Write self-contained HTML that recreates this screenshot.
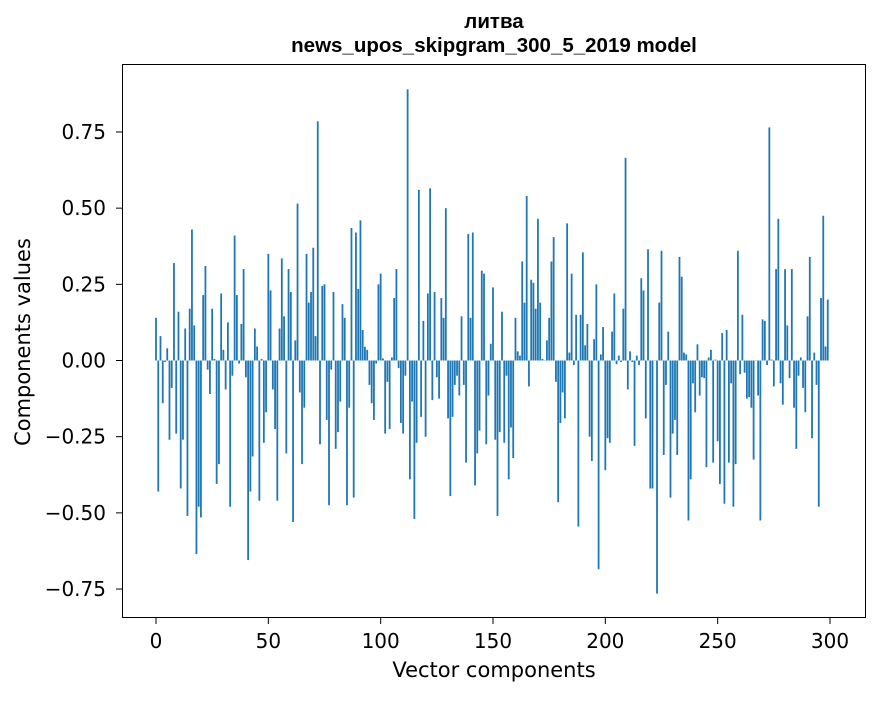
<!DOCTYPE html>
<html><head><meta charset="utf-8"><style>
html,body{margin:0;padding:0;background:#fff;}
svg text{font-family:"DejaVu Sans","Liberation Sans",sans-serif;fill:#000;}
svg text.ttl{font-family:"Liberation Sans","DejaVu Sans",sans-serif;}
</style></head><body>
<svg id="chart" width="880" height="696" xmlns="http://www.w3.org/2000/svg">
<rect width="880" height="696" fill="#fff"/>
<text class="ttl" x="494" y="28" text-anchor="middle" font-size="20.5" font-weight="bold">литва</text>
<text class="ttl" x="494" y="52" text-anchor="middle" font-size="20.5" font-weight="bold">news_upos_skipgram_300_5_2019 model</text>
<g id="bars"></g>
<g id="axes"></g>
<rect x="122.5" y="64.5" width="743" height="553" fill="none" stroke="#000" stroke-width="1"/>
<text x="494" y="677" text-anchor="middle" font-size="21">Vector components</text>
<text x="30" y="342" text-anchor="middle" font-size="21" transform="rotate(-90 30 342)">Components values</text>
</svg>
<script>
const values = [
0.14,-0.43,0.08,-0.14,-0.005,0.04,-0.26,-0.09,0.32,-0.24,
0.16,-0.42,-0.26,0.105,-0.51,0.17,0.43,0.115,-0.635,-0.48,
-0.515,0.215,0.31,-0.03,-0.11,0.17,0.005,-0.405,-0.34,0.22,
0.035,-0.095,0.125,-0.48,-0.05,0.41,0.215,-0.01,0.12,0.3,
-0.055,-0.655,-0.43,-0.315,0.105,0.046,-0.46,0.005,-0.27,-0.17,
0.35,0.23,-0.095,-0.225,-0.46,0.105,0.335,0.145,-0.305,0.3,
0.225,-0.53,0.066,0.515,-0.105,-0.34,-0.155,0.35,0.19,0.225,
0.37,0.08,0.785,-0.275,0.245,0.25,-0.195,-0.475,-0.03,0.225,
-0.29,-0.235,-0.135,0.185,0.14,-0.475,-0.155,0.435,-0.45,0.42,
0.235,0.46,0.1,0.045,0.035,-0.08,-0.14,-0.195,-0.01,0.25,
0.285,0.007,-0.24,-0.07,-0.225,0.01,0.205,0.3,-0.025,-0.205,
-0.24,-0.05,0.89,-0.39,-0.135,-0.52,-0.27,0.56,-0.185,0.13,
-0.25,0.22,0.565,-0.13,0.225,-0.055,-0.125,0.205,0.14,0.5,
-0.19,-0.445,-0.185,-0.08,-0.05,-0.115,0.145,-0.08,-0.335,0.415,
0.14,0.42,-0.41,-0.305,-0.23,0.295,0.285,-0.275,-0.115,0.055,
0.24,-0.26,-0.51,-0.235,0.16,-0.27,-0.05,-0.39,-0.22,-0.32,
0.14,0.03,0.016,0.325,0.19,0.54,-0.085,0.265,0.255,0.17,
0.465,0.19,0.005,0.0,0.066,0.14,0.325,0.405,-0.07,-0.465,
-0.205,-0.105,-0.19,0.45,0.026,0.285,-0.015,0.15,-0.545,0.15,
0.355,0.05,0.12,-0.25,-0.33,0.07,0.25,-0.685,0.02,0.11,
-0.36,-0.255,-0.27,0.095,0.22,-0.012,0.016,-0.005,0.17,0.665,
-0.095,0.03,-0.005,-0.28,0.016,-0.015,0.27,0.23,-0.19,0.365,
-0.42,-0.42,0.0,-0.765,0.19,0.36,-0.31,-0.08,0.095,-0.45,
-0.24,-0.195,-0.31,0.34,0.275,0.026,0.02,-0.525,-0.39,-0.075,
-0.17,0.053,-0.115,-0.055,-0.058,-0.35,0.01,0.035,-0.335,0.003,
-0.265,-0.405,0.09,-0.47,0.1,-0.335,-0.075,-0.48,-0.34,0.36,
-0.045,0.15,-0.04,-0.125,-0.12,-0.155,-0.325,0.0,-0.115,-0.525,
0.135,0.13,-0.015,0.765,0.003,-0.085,0.3,0.465,-0.075,-0.145,
0.3,0.115,-0.058,0.3,-0.155,-0.29,-0.05,0.01,-0.09,-0.17,
0.145,0.34,-0.255,0.026,-0.08,-0.48,0.205,0.475,0.046,0.2
];
const xTicks = [0,50,100,150,200,250,300];
const yTicks = [-0.75,-0.5,-0.25,0,0.25,0.5,0.75];
const yTickLabels = ["\u22120.75","\u22120.50","\u22120.25","0.00","0.25","0.50","0.75"];

const NS = "http://www.w3.org/2000/svg";
const xScale = v => 156 + v * (674 / 300);
const yScale = v => 360.5 - v * 304.7;
const barsG = document.getElementById('bars');
const axesG = document.getElementById('axes');
const bw = 0.8 * (674 / 300);
values.forEach((v, i) => {
  const r = document.createElementNS(NS, 'rect');
  const y0 = yScale(0), y1 = yScale(v);
  r.setAttribute('x', xScale(i) - bw / 2);
  r.setAttribute('y', Math.min(y0, y1));
  r.setAttribute('width', bw);
  r.setAttribute('height', Math.max(Math.abs(y1 - y0), 0.3));
  r.setAttribute('fill', '#1f77b4');
  
  
  barsG.appendChild(r);
});
xTicks.forEach(t => {
  const x = xScale(t);
  const l = document.createElementNS(NS, 'line');
  l.setAttribute('x1', x); l.setAttribute('x2', x);
  l.setAttribute('y1', 618); l.setAttribute('y2', 624);
  l.setAttribute('stroke', '#000');
  
  
  axesG.appendChild(l);
  const tx = document.createElementNS(NS, 'text');
  tx.setAttribute('x', x); tx.setAttribute('y', 648);
  tx.setAttribute('text-anchor', 'middle');
  tx.setAttribute('font-size', '20');
  tx.textContent = String(t);
  
  
  axesG.appendChild(tx);
});
yTicks.forEach((t, i) => {
  const y = yScale(t);
  const l = document.createElementNS(NS, 'line');
  l.setAttribute('x1', 116); l.setAttribute('x2', 122);
  l.setAttribute('y1', y); l.setAttribute('y2', y);
  l.setAttribute('stroke', '#000');
  
  
  axesG.appendChild(l);
  const tx = document.createElementNS(NS, 'text');
  tx.setAttribute('x', 106); tx.setAttribute('y', y + 7);
  tx.setAttribute('text-anchor', 'end');
  tx.setAttribute('font-size', '20');
  tx.textContent = yTickLabels[i];
  
  
  axesG.appendChild(tx);
});
</script>
</body></html>
